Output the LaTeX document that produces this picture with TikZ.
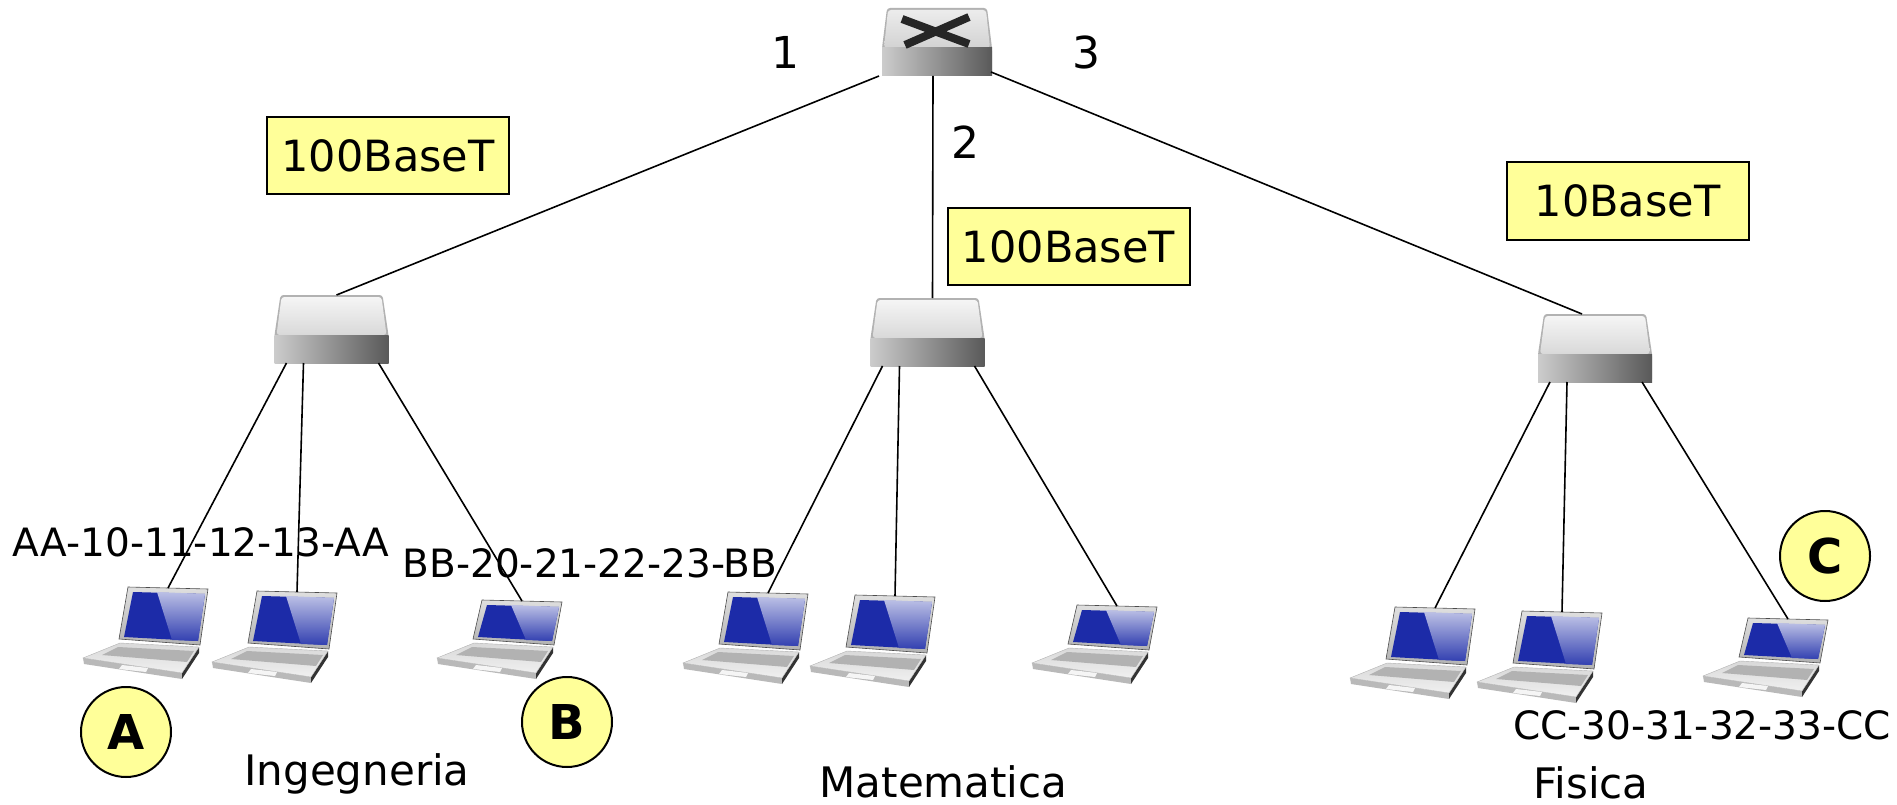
\documentclass[tikz,border=0pt]{standalone}
\usepackage{fontspec}
\setmainfont{DejaVu Sans}
\definecolor{note}{HTML}{FFFF99}
\definecolor{scr}{HTML}{1C2BA8}
\tikzset{
  cable/.style={line width=1.6pt},
  speedbox/.style={draw,line width=2pt,fill=note,minimum width=242pt,minimum height=77pt,font=\fontsize{43}{48}\selectfont},
  tag/.style={circle,draw,line width=2pt,fill=note,minimum size=90pt,inner sep=0pt,font=\fontsize{48}{52}\selectfont\bfseries},
  mac/.style={inner sep=0pt,font=\fontsize{39}{44}\selectfont},
  port/.style={inner sep=0pt,font=\fontsize{44}{50}\selectfont},
  dept/.style={inner sep=0pt,anchor=base,font=\fontsize{42}{48}\selectfont},
  pics/hub/.style={code={
    \fill[gray!60,rounded corners=3pt] (-51,0)--(51,0)--(57,40)--(57,68)--(-57,68)--(-57,40)--cycle;
    \shade[top color=gray!8,bottom color=gray!30,rounded corners=3pt] (-50,2)--(50,2)--(55,40)--(-55,40)--cycle;
    \shade[left color=gray!40,right color=gray!70!black] (-57,40) rectangle (57,68);
    \coordinate (-top) at (0,0);
    \coordinate (-a) at (-45,68);
    \coordinate (-b) at (-28,68);
    \coordinate (-c) at (47,68);
  }},
  pics/switch/.style={code={
    \fill[gray!60,rounded corners=3pt] (-50,0)--(50,0)--(55,40)--(55,68)--(-55,68)--(-55,40)--cycle;
    \shade[top color=gray!15,bottom color=gray!35,rounded corners=3pt] (-49,2)--(49,2)--(53,40)--(-53,40)--cycle;
    \shade[left color=gray!40,right color=gray!70!black] (-55,40) rectangle (55,68);
    \draw[line width=8pt,gray!30!black] (-35,11)--(32,36) (32,9)--(-32,37);
    \coordinate (-s1) at (-58,68);
    \coordinate (-s2) at (-4,68);
    \coordinate (-s3) at (54,64);
  }},
  pics/laptop/.style={code={
    % deck
    \fill[gray!55] (-45,#1+14)--(54,#1+29)--(54,#1+35)--(-44,#1+20)--cycle;
    \fill[gray!40!black] (54,#1+29)--(71,#1+3)--(71,#1+9)--(54,#1+35)--cycle;
    \shade[top color=gray!30,bottom color=gray!12,draw=gray!60] (-8,#1-1)--(71,#1+3)--(54,#1+29)--(-45,#1+14)--cycle;
    \fill[gray!60] (-10,#1+3)--(66,#1+7)--(59,#1+18)--(-26,#1+11)--cycle;
    \fill[gray!8] (-6,#1+21)--(20,#1+24)--(18,#1+28)--(-9,#1+25)--cycle;
    % screen
    \shade[top color=gray!25,bottom color=gray!60,draw=gray!60!black,line width=.6pt] (0,0)--(80,2)--(72,#1+1)--(-9,#1-5)--cycle;
    \fill[scr] (5,5)--(77,7)--(70,#1-3)--(-4,#1-7)--cycle;
    \shade[top color=white!70!scr,bottom color=scr!90] (29,5)--(77,7)--(70,#1-3)--(44,#1-4)--cycle;
    \coordinate (-top) at (40,1);
  }},
}
\begin{document}
\begin{tikzpicture}[x=1pt,y=-1pt]
\useasboundingbox (0,0) rectangle (1897,805);
% switch and hubs
\pic (sw) at (937,8) {switch};
\pic (hI) at (331.5,295) {hub};
\pic (hM) at (927.5,298) {hub};
\pic (hF) at (1595,314) {hub};
% hosts
\pic (lI1) at (128,587) {laptop=57};
\pic (lI2) at (257,591) {laptop=57};
\pic (lI3) at (482,600) {laptop=44};
\pic (lM1) at (728,592) {laptop=57};
\pic (lM2) at (855,595) {laptop=57};
\pic (lM3) at (1077,605) {laptop=44};
\pic (lF1) at (1395,607) {laptop=57};
\pic (lF2) at (1522,611) {laptop=57};
\pic (lF3) at (1748,618) {laptop=44};
% cables
\draw[cable] (sw-s1)--([xshift=5pt]hI-top);
\draw[cable] (sw-s2)--([xshift=5pt]hM-top);
\draw[cable] (sw-s3)--([xshift=-13pt]hF-top);
\foreach \g in {I,M,F}{
  \draw[cable] (h\g-a)--(l\g1-top) (h\g-b)--(l\g2-top) (h\g-c)--(l\g3-top);
}
% labels
\node[port] (p1) at (785,52) {1};
\node[port] (p2) at (965,142) {2};
\node[port] (p3) at (1086,52) {3};
\node[speedbox] (bI) at (388,155.5) {100BaseT};
\node[speedbox] (bM) at (1068.5,246.5) {100BaseT};
\node[speedbox] (bF) at (1627.5,201) {10BaseT};
\node[mac] (macA) at (201,542) {AA-10-11-12-13-AA};
\node[mac] (macB) at (590,563) {BB-20-21-22-23-BB};
\node[mac] (macC) at (1702,725) {CC-30-31-32-33-CC};
\node[tag] (tA) at (126,732) {A};
\node[tag] (tB) at (567,722) {B};
\node[tag] (tC) at (1825,556) {C};
\node[dept] (dI) at (357,785) {Ingegneria};
\node[dept] (dM) at (943.5,797) {Matematica};
\node[dept] (dF) at (1591,798) {Fisica};
\end{tikzpicture}
\end{document}
